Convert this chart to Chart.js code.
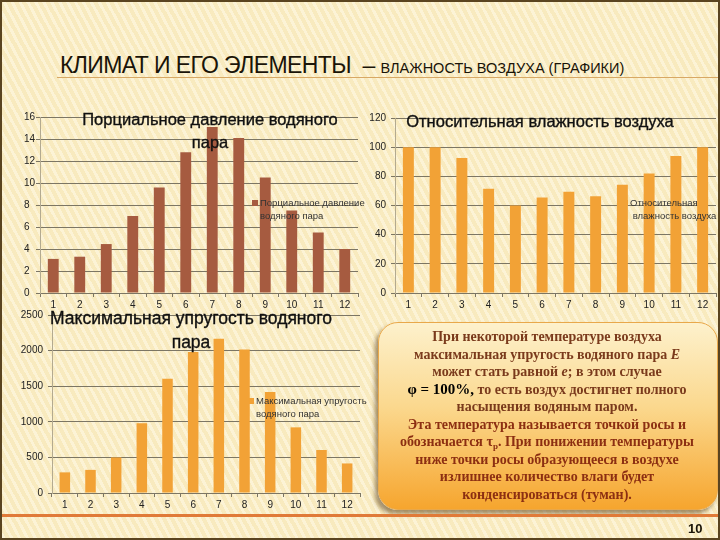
<!DOCTYPE html>
<html>
<head>
<meta charset="utf-8">
<script src="https://cdn.jsdelivr.net/npm/chart.js@4.4.1/dist/chart.umd.min.js"></script>
<style>
  body { margin:0; }
  #slide {
    position:relative; width:716px; height:536px; overflow:hidden;
    border:2px solid #5a4420;
    background-color:#fbefc6;
    background-image: repeating-linear-gradient(62deg, rgba(255,255,255,0.28) 0px, rgba(255,255,255,0.28) 3px, rgba(210,170,90,0.07) 3px, rgba(210,170,90,0.07) 7px);
    font-family:"Liberation Sans", Arial, sans-serif;
  }
  canvas { position:absolute; }
  .t { position:absolute; white-space:nowrap; color:#1a1408; }
  .ttl { position:absolute; text-align:center; font-size:16.5px; line-height:23px; color:#111; -webkit-text-stroke:0.35px #111; }
  .leg { position:absolute; font-size:9.5px; line-height:12.5px; color:#333; }
  .leg i { position:absolute; left:-8px; top:3px; width:6px; height:6px; }
  #box {
    position:absolute; left:376px; top:320px; width:338px; height:186px;
    border-radius:20px; border:1px solid #e9a84a;
    background:linear-gradient(#fdf1cc 0%, #fbd88e 45%, #f6a52e 100%);
    box-shadow:-3px 4px 4px rgba(90,60,20,0.55);
  }
  #txt { position:absolute; left:376px; top:326px; width:338px; text-align:center;
    font-family:"Liberation Serif", "Times New Roman", serif; font-weight:bold; font-size:14px; line-height:17.5px; color:#7a3a1c; }
  #txt .b { color:#000; font-size:15px; }
  #txt .r { color:#8c2f12; }
  #txt sub { font-size:9px; vertical-align:baseline; position:relative; top:3px; line-height:0; }
</style>
</head>
<body>
<div id="slide">
  <div class="t" style="left:58px; top:50px; font-size:23px; letter-spacing:-0.6px;">КЛИМАТ И ЕГО ЭЛЕМЕНТЫ&nbsp; – <span style="font-size:14.5px; letter-spacing:0;">ВЛАЖНОСТЬ ВОЗДУХА (ГРАФИКИ)</span></div>
  <div style="position:absolute; left:55px; top:75px; width:665px; height:1px; background:#d8a864;"></div>

  <canvas id="c1" width="366" height="210" style="left:-2px; top:104px;"></canvas>
  <canvas id="c2" width="360" height="210" style="left:358px; top:104px;"></canvas>
  <canvas id="c3" width="370" height="212" style="left:-2px; top:301px;"></canvas>

  <div class="ttl" style="left:58px; top:106px; width:300px;">Порциальное давление водяного<br>пара</div>
  <div class="ttl" style="left:388px; top:108px; width:300px;">Относительная влажность воздуха</div>
  <div class="ttl" style="left:39px; top:304px; width:300px; font-size:17.5px; line-height:24px;">Максимальная упругость водяного<br>пара</div>

  <div class="leg" style="left:258px; top:195px;"><i style="background:#a65b40;"></i>Порциальное давление<br>водяного пара</div>
  <div class="leg" style="left:628px; top:195px;"><i style="background:#f2a236;"></i>Относительная<br>&nbsp;влажность воздуха</div>
  <div class="leg" style="left:254px; top:393px;"><i style="background:#f2a236;"></i>Максимальная упругость<br>водяного пара</div>

  <div id="box"></div>
  <div id="txt">
    При некоторой температуре воздуха<br>
    максимальная упругость водяного пара <i>E</i><br>
    может стать равной <i>e</i>; в этом случае<br>
    <span class="b">φ = 100%,</span> то есть воздух достигнет полного<br>
    насыщения водяным паром.<br>
    <span class="r">Эта температура называется точкой росы и<br>
    обозначается τ<sub>р</sub>. При понижении температуры<br>
    ниже точки росы образующееся в воздухе<br>
    излишнее количество влаги будет<br>
    конденсироваться (туман).</span>
  </div>

  <div style="position:absolute; left:0; top:512px; width:720px; height:3px; background:#e07a38;"></div>
  <div class="t" style="left:686px; top:519px; font-size:13px; font-weight:bold;">10</div>
</div>

<script>
// months 1..12
var months = ['1','2','3','4','5','6','7','8','9','10','11','12'];

// partial pressure of water vapour
var vapourPressure = [3.1, 3.3, 4.45, 7.0, 9.6, 12.8, 15.1, 14.1, 10.5, 7.5, 5.5, 4.0];

// relative humidity, %
var relHumidity = [100, 100, 92.5, 71.5, 60, 65.5, 69.5, 66.3, 74.3, 82, 94, 100];

// max vapour pressure (saturation)
var maxPressure = [290, 325, 500, 980, 1605, 1980, 2165, 2015, 1420, 922, 604, 415];

var gridCol = '#7c7664';
var tickFont = { family: "'Liberation Sans', Arial, sans-serif", size: 10 };

function makeChart(id, values, color, yMax, step, o) {
    var ctx = document.getElementById(id).getContext('2d');
    return new Chart(ctx, {
        type: 'bar',
        data: {
            labels: months,
            datasets: [{
                data: values,
                backgroundColor: color,
                borderWidth: 0,
                barPercentage: 0.41,
                categoryPercentage: 1
            }]
        },
        options: {
            responsive: false,
            animation: false,
            layout: { padding: { left: o.padLeft, right: o.padRight, top: o.padTop, bottom: 0 } },
            plugins: { legend: { display: false }, tooltip: { enabled: false } },
            scales: {
                x: {
                    grid: { drawOnChartArea: false, tickLength: 4, color: gridCol, offset: true },
                    border: { display: true, color: gridCol },
                    ticks: { color: '#222', font: tickFont, padding: 2, maxRotation: 0 },
                    afterFit: function(s) { s.height = o.xHeight; }
                },
                y: {
                    min: 0, max: yMax,
                    grid: { color: gridCol, tickLength: 4 },
                    border: { display: true, color: '#b3aa90' },
                    ticks: {
                        stepSize: step, color: '#222', font: tickFont, padding: o.tickPad, crossAlign: o.align,
                        callback: function(v) { return String(v); }
                    },
                    afterFit: function(s) { s.width = o.yWidth; }
                }
            }
        }
    });
}

makeChart('c1', vapourPressure, '#a65b40', 16, 2,
    { padLeft: 24, padRight: 8, padTop: 11, xHeight: 23, yWidth: 16, tickPad: 4, align: 'far' });
makeChart('c2', relHumidity, '#f2a236', 120, 20,
    { padLeft: 0, padRight: 4, padTop: 12, xHeight: 23, yWidth: 35, tickPad: 5, align: 'near' });
makeChart('c3', maxPressure, '#f2a236', 2500, 500,
    { padLeft: 0, padRight: 10, padTop: 12, xHeight: 22, yWidth: 52, tickPad: 5, align: 'near' });
</script>
</body>
</html>
